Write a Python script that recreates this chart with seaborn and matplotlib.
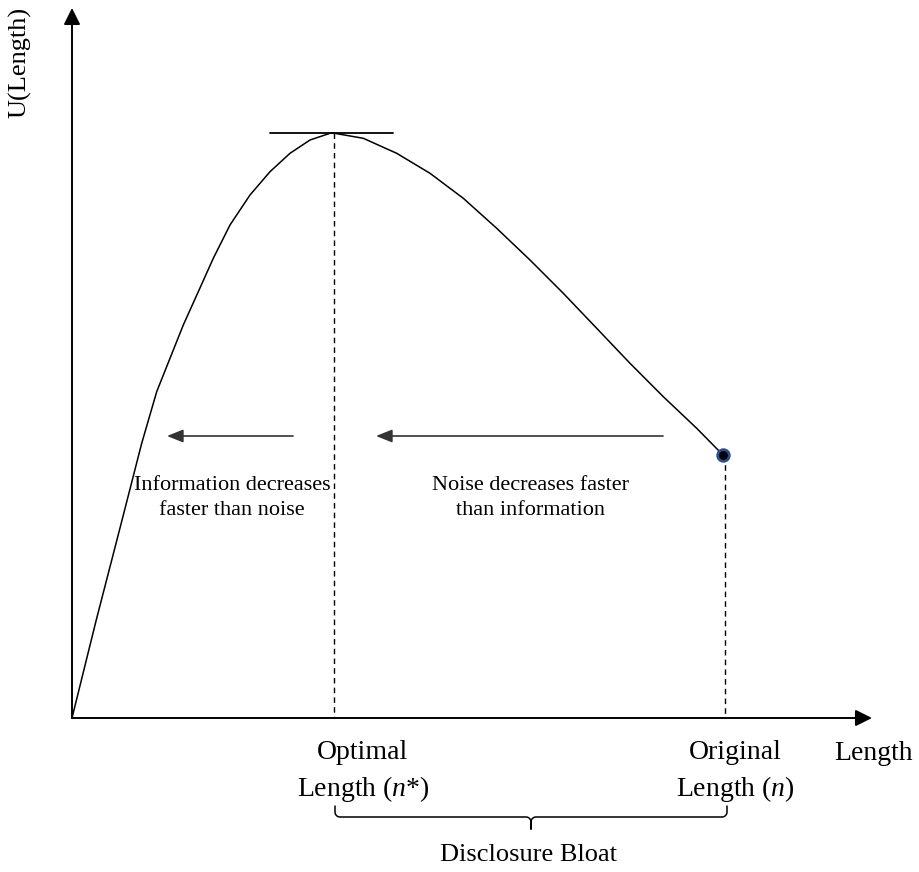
import numpy as np
import pandas as pd
import seaborn as sns
import matplotlib.pyplot as plt

# utility curve (length, utility), origin at the axes corner
length = [0, 24, 48, 69.7, 84.7, 98, 111.3, 126.3, 141.3, 158, 178, 198, 218,
          238, 258, 261, 291.3, 324.7, 358, 391.3, 424.7, 458, 491.3, 524.7,
          558, 591.3, 624.7, 651]
utility = [0, 97, 190, 274.7, 326.3, 359.7, 393, 426.3, 459.7, 493, 523,
           546.3, 564.7, 578, 584.7, 585, 579.7, 564.7, 544.7, 519.7, 489.7,
           458, 424.7, 389.7, 354.7, 321.3, 289.7, 263]

n_opt = 261      # optimal length n*
n_orig = 651     # original length n
u_peak = 585
u_orig = 263

left_label = "Information decreases\nfaster than noise"
right_label = "Noise decreases faster\nthan information"

sns.set_theme(style="white")
plt.rcParams["font.family"] = ["Liberation Serif", "DejaVu Serif"]
plt.rcParams["mathtext.fontset"] = "custom"
plt.rcParams["mathtext.rm"] = "Liberation Serif"
plt.rcParams["mathtext.it"] = "Liberation Serif:italic"
plt.rcParams["text.color"] = "black"

fig = plt.figure(figsize=(9.19, 8.72), dpi=100)
ax = fig.add_axes([0, 0, 1, 1])
ax.set_xlim(-72, 847)
ax.set_ylim(-154, 718)
ax.axis("off")

df = pd.DataFrame({"length": length, "utility": utility})
sns.lineplot(data=df, x="length", y="utility", sort=False, estimator=None,
             color="black", lw=1.1, ax=ax)

# axes with arrow heads
axis_arrow = dict(arrowstyle="-|>,head_length=0.5,head_width=0.25", color="black",
                  lw=1.4, mutation_scale=20, shrinkA=0, shrinkB=0)
ax.annotate("", xy=(0, 710), xytext=(0, 0), arrowprops=axis_arrow)
ax.annotate("", xy=(800, 0), xytext=(0, 0), arrowprops=axis_arrow)

# tangent at the peak and guide lines
ax.plot([n_opt - 63, n_opt + 60], [u_peak, u_peak], color="black", lw=1.3)
ax.plot([n_opt + 1, n_opt + 1], [u_peak, 0], color="black", lw=1, ls=(0, (4, 3)))
ax.plot([n_orig + 2, n_orig + 2], [u_orig, 0], color="black", lw=1, ls=(0, (4, 3)))

sns.scatterplot(x=[n_orig], y=[u_orig], s=70, color="black",
                edgecolor="#2b4f8c", linewidth=2, zorder=5, ax=ax)

# direction arrows
small_arrow = dict(arrowstyle="-|>,head_length=0.7,head_width=0.28", color="#333333",
                   lw=1.2, mutation_scale=14, shrinkA=0, shrinkB=0)
ax.annotate("", xy=(95, 282), xytext=(221, 282), arrowprops=small_arrow)
ax.annotate("", xy=(304, 282), xytext=(591, 282), arrowprops=small_arrow)

ax.text(160, 220, left_label, ha="center", va="center", fontsize=16,
        linespacing=1.45, color="black")
ax.text(458, 220, right_label, ha="center", va="center", fontsize=16,
        linespacing=1.45, color="black")

# axis labels
ax.text(-52, 656, "U(Length)", rotation=90, ha="center", va="center", fontsize=19)
ax.text(801, -35, "Length", ha="center", va="center", fontsize=20)
ax.text(n_opt + 30, -54, "Optimal\nLength ($n$*)", ha="center", va="center",
        fontsize=20, linespacing=1.4)
ax.text(n_orig + 12, -54, "Original\nLength ($n$)", ha="center", va="center",
        fontsize=20, linespacing=1.4)

# curly brace under the two lengths
x0, x1 = n_opt + 2, n_orig + 4
xm = (x0 + x1) / 2
r = 5
t = np.linspace(0, np.pi / 2, 10)
left_curl_x = x0 + r - r * np.cos(t)
left_curl_y = -99 + r - r * np.sin(t)
right_curl_x = x1 - r + r * np.cos(t)
right_curl_y = -99 + r - r * np.sin(t)
bx = np.concatenate([[x0], left_curl_x, xm - r + r * np.sin(t),
                     [xm], xm + r - r * np.sin(t[::-1]), right_curl_x[::-1], [x1]])
by = np.concatenate([[-88], left_curl_y, -99 - r + r * np.cos(t),
                     [-111], -99 - r + r * np.cos(t[::-1]), right_curl_y[::-1], [-88]])
ax.plot(bx, by, color="black", lw=1.1)

ax.text(xm - 3, -137, "Disclosure Bloat", ha="center", va="center", fontsize=19)

plt.savefig("out.png", dpi=100)
